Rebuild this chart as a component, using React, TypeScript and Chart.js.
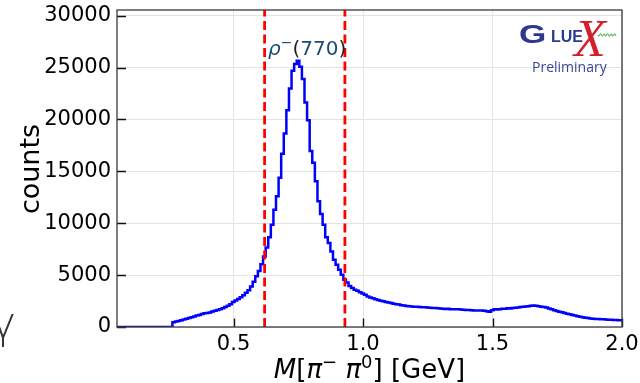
import React, { useEffect, useRef } from "react";
import { Chart, registerables } from "chart.js";

Chart.register(...registerables);

// ---- data ----
const binStart = 0.044; // lower edge of first bin [GeV]
const binWidth = 0.01; // [GeV]
const counts: number[] = [
  // 0.04 .. 0.26
  0, 0, 0, 0, 0, 0, 0, 0, 0, 0, 0, 0, 0, 0, 0, 0, 0, 0, 0, 0, 0, 0, 0,
  // 0.27 .. 0.93
  450, 520, 580, 650, 720, 800, 870, 950, 1020, 1100,
  1160, 1260, 1320, 1350, 1400, 1500, 1560, 1640, 1720, 1810,
  1920, 2040, 2200, 2400, 2550, 2700, 2870, 3050, 3300, 3550,
  3900, 4350, 4900, 5400, 6050, 6800, 7670, 8640, 9860, 11310,
  12600, 14380, 16700, 18640, 20890, 22990, 24690, 25350, 25650, 25080,
  23890, 21630, 19920, 16950, 15830, 14050, 12120, 10900, 9860, 8640,
  8090, 7280, 6480, 6000, 5510, 5030, 4550,
  // 0.94 .. 1.99
  4300, 3950, 3750, 3600, 3500, 3350,
  3230, 3100, 2950, 2850, 2760, 2680, 2600, 2540, 2480, 2420,
  2360, 2310, 2250, 2200, 2170, 2100, 2060, 2030, 2010, 1970,
  1960, 1950, 1920, 1900, 1910, 1880, 1850, 1830, 1820, 1800,
  1790, 1760, 1740, 1750, 1720, 1710, 1720, 1700, 1690, 1670,
  1650, 1640, 1620, 1600, 1590, 1580, 1600, 1560, 1520, 1480,
  1620, 1700, 1690, 1720, 1750, 1770, 1800, 1790, 1830, 1850,
  1880, 1920, 1950, 1980, 2010, 2050, 2070, 2040, 2000, 1960,
  1930, 1880, 1780, 1700, 1620, 1540, 1480, 1420, 1350, 1270,
  1220, 1160, 1100, 1040, 990, 950, 900, 860, 830, 800,
  780, 760, 750, 740, 720, 700, 690, 680, 670, 640,
];
const cutLow = 0.62;
const cutHigh = 0.93;
const xMin = 0.05;
const xMax = 2.0;
const yMin = 0;
const yMax = 30550;
const xTicks = [0.5, 1.0, 1.5, 2.0];
const yTicks = [0, 5000, 10000, 15000, 20000, 25000, 30000];
const peakLabelX = 0.633;
const peakLabelY = 26200;

const FONT = "'DejaVu Sans', sans-serif";

type Seg = { t: string; font: string; color: string; dy?: number };

function drawSegs(ctx: CanvasRenderingContext2D, segs: Seg[], x: number, y: number, align: "left" | "center") {
  ctx.textAlign = "left";
  ctx.textBaseline = "alphabetic";
  let total = 0;
  for (const s of segs) {
    ctx.font = s.font;
    total += ctx.measureText(s.t).width;
  }
  let cx = align === "center" ? x - total / 2 : x;
  for (const s of segs) {
    ctx.font = s.font;
    ctx.fillStyle = s.color;
    ctx.fillText(s.t, cx, y + (s.dy || 0));
    cx += ctx.measureText(s.t).width;
  }
}

const overlay = {
  id: "overlay",
  afterDatasetsDraw(chart: any) {
    const ctx: CanvasRenderingContext2D = chart.ctx;
    const a = chart.chartArea;
    const xs = chart.scales.x;
    const ys = chart.scales.y;
    ctx.save();

    // inward ticks
    ctx.strokeStyle = "#111";
    ctx.lineWidth = 1.4;
    ctx.beginPath();
    for (const v of xTicks) {
      const px = Math.round(xs.getPixelForValue(v)) + 0.5;
      ctx.moveTo(px, a.bottom);
      ctx.lineTo(px, a.bottom - 8.5);
    }
    for (const v of yTicks) {
      const py = Math.round(ys.getPixelForValue(v)) + 0.5;
      ctx.moveTo(a.left, py);
      ctx.lineTo(a.left + 9, py);
    }
    ctx.stroke();

    // frame
    ctx.strokeStyle = "#3a3a3a";
    ctx.lineWidth = 1.3;
    ctx.strokeRect(a.left, a.top, a.right - a.left, a.bottom - a.top);

    // peak annotation
    const lx = xs.getPixelForValue(peakLabelX);
    const ly = ys.getPixelForValue(peakLabelY);
    const c1 = "#1d4b73";
    drawSegs(
      ctx,
      [
        { t: "ρ", font: `italic 20px ${FONT}`, color: c1 },
        { t: "−", font: `14px ${FONT}`, color: c1, dy: -8 },
        { t: "(", font: `20px ${FONT}`, color: "#222" },
        { t: "770", font: `20px ${FONT}`, color: c1 },
        { t: ")", font: `20px ${FONT}`, color: "#222" },
      ],
      lx,
      ly,
      "left"
    );

    // GlueX logo
    ctx.fillStyle = "#2b3990";
    ctx.font = "bold 26px 'Liberation Sans', sans-serif";
    ctx.save();
    ctx.translate(519, 43);
    ctx.scale(1.35, 1);
    ctx.fillText("G", 0, 0);
    ctx.restore();
    ctx.font = "bold 16px 'Liberation Sans', sans-serif";
    ctx.fillText("LUE", 551, 42);
    ctx.fillStyle = "#d4202a";
    ctx.font = "italic 52px 'Liberation Serif', serif";
    ctx.fillText("X", 574, 56);
    // gluon wiggle
    ctx.strokeStyle = "#3aa83a";
    ctx.lineWidth = 1;
    ctx.beginPath();
    for (let i = 0; i <= 36; i++) {
      const px = 598 + i * 0.5;
      const py = 35 + 1.3 * Math.sin(i * 0.9);
      if (i === 0) ctx.moveTo(px, py);
      else ctx.lineTo(px, py);
    }
    ctx.stroke();
    ctx.fillStyle = "#3d4293";
    ctx.font = "14px 'Open Sans', sans-serif";
    ctx.fillText("Preliminary", 532, 72);

    // axis titles
    const tf = 26;
    drawSegs(
      ctx,
      [
        { t: "M", font: `italic ${tf}px ${FONT}`, color: "#000" },
        { t: "[", font: `${tf}px ${FONT}`, color: "#000" },
        { t: "π", font: `italic ${tf}px ${FONT}`, color: "#000" },
        { t: "−", font: `${Math.round(tf * 0.7)}px ${FONT}`, color: "#000", dy: -10 },
        { t: " ", font: `${tf}px ${FONT}`, color: "#000" },
        { t: "π", font: `italic ${tf}px ${FONT}`, color: "#000" },
        { t: "0", font: `${Math.round(tf * 0.7)}px ${FONT}`, color: "#000", dy: -10 },
        { t: "] [GeV]", font: `${tf}px ${FONT}`, color: "#000" },
      ],
      (a.left + a.right) / 2,
      378,
      "center"
    );
    ctx.save();
    ctx.translate(39, 169);
    ctx.rotate(-Math.PI / 2);
    ctx.fillStyle = "#000";
    ctx.font = `27px ${FONT}`;
    ctx.textAlign = "center";
    ctx.fillText("counts", 0, 0);
    ctx.restore();

    // stray glyph at left edge
    ctx.fillStyle = "#333";
    ctx.font = `200 44px 'DejaVu Sans ExtraLight', ${FONT}`;
    ctx.textAlign = "left";
    ctx.fillText("γ", -10, 338);

    ctx.restore();
  },
};

export default function App() {
  const ref = useRef<HTMLCanvasElement>(null);
  useEffect(() => {
    const canvas = ref.current;
    if (!canvas) return;
    const histPoints = counts.map((c, i) => ({ x: binStart + i * binWidth, y: c }));
    histPoints.push({ x: binStart + counts.length * binWidth, y: counts[counts.length - 1] });
    const chart = new Chart(canvas, {
      type: "line",
      data: {
        datasets: [
          {
            label: "cutLow",
            data: [{ x: cutLow, y: yMin }, { x: cutLow, y: yMax }],
            borderColor: "#ff0000",
            borderWidth: 2.8,
            borderDash: [9, 4.5],
            pointRadius: 0,
            order: 0,
          },
          {
            label: "cutHigh",
            data: [{ x: cutHigh, y: yMin }, { x: cutHigh, y: yMax }],
            borderColor: "#ff0000",
            borderWidth: 2.8,
            borderDash: [9, 4.5],
            pointRadius: 0,
            order: 0,
          },
          {
            label: "hist",
            data: histPoints,
            stepped: "after",
            borderColor: "#0000ff",
            borderWidth: 2.5,
            pointRadius: 0,
            fill: false,
            order: 1,
          },
        ],
      } as any,
      options: {
        responsive: false,
        animation: false,
        layout: { padding: { top: 10, right: 18, left: 0, bottom: 0 } },
        plugins: { legend: { display: false }, tooltip: { enabled: false } },
        scales: {
          x: {
            type: "linear",
            min: xMin,
            max: xMax,
            afterBuildTicks: (s: any) => {
              s.ticks = xTicks.map((v) => ({ value: v }));
            },
            afterFit: (s: any) => {
              s.height = 56;
              s.paddingLeft = 0;
              s.paddingRight = 0;
            },
            grid: { color: "#e4e4e4", lineWidth: 1, drawTicks: false },
            border: { display: false },
            ticks: {
              color: "#000",
              font: { family: FONT, size: 21 },
              padding: 5,
              maxRotation: 0,
              autoSkip: false,
              callback: (v: any) => Number(v).toFixed(1),
            },
          },
          y: {
            type: "linear",
            min: yMin,
            max: yMax,
            afterBuildTicks: (s: any) => {
              s.ticks = yTicks.map((v) => ({ value: v }));
            },
            afterFit: (s: any) => {
              s.width = 117;
              s.paddingTop = 0;
              s.paddingBottom = 0;
            },
            grid: { color: "#e4e4e4", lineWidth: 1, drawTicks: false },
            border: { display: false },
            ticks: {
              color: "#000",
              font: { family: FONT, size: 21 },
              padding: 6,
              autoSkip: false,
              callback: (v: any) => String(v),
            },
          },
        },
      },
      plugins: [overlay],
    });
    return () => chart.destroy();
  }, []);
  return (
    <canvas
      ref={ref}
      width={640}
      height={383}
      style={{ position: "absolute", left: 0, top: 0, width: 640, height: 383 }}
    />
  );
}
